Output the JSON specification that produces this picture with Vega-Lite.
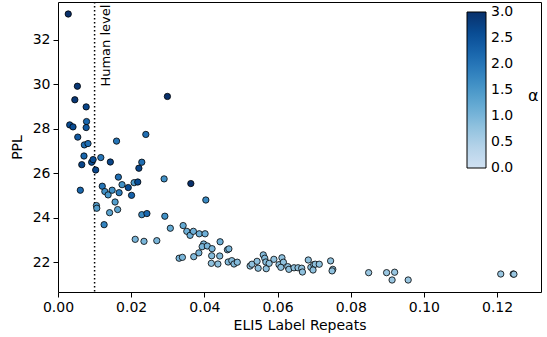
{
  "$schema": "https://vega.github.io/schema/vega-lite/v6.json",
  "width": 483,
  "height": 290,
  "autosize": {"type": "none"},
  "padding": {"left": 58, "top": 2, "right": 6, "bottom": 45},
  "config": {
    "font": "DejaVu Sans",
    "view": {"stroke": "#000", "strokeWidth": 1},
    "axis": {"domain": false, "grid": false, "tickColor": "#000", "tickSize": 5, "labelColor": "#000", "labelFontSize": 14, "titleColor": "#000", "titleFontSize": 14, "titleFontWeight": "normal", "labelFont": "DejaVu Sans", "titleFont": "DejaVu Sans", "labelFlush": false},
    "legend": {"labelFont": "DejaVu Sans", "titleFont": "DejaVu Sans"}
  },
  "datasets": {
    "points": [
      {"x": 0.0028, "ppl": 33.16, "a": 3.0},
      {"x": 0.0053, "ppl": 29.91, "a": 2.9},
      {"x": 0.0046, "ppl": 29.30, "a": 2.9},
      {"x": 0.0077, "ppl": 28.98, "a": 2.7},
      {"x": 0.0299, "ppl": 29.45, "a": 3.0},
      {"x": 0.0032, "ppl": 28.17, "a": 2.6},
      {"x": 0.0041, "ppl": 28.08, "a": 2.6},
      {"x": 0.0078, "ppl": 28.32, "a": 2.2},
      {"x": 0.0077, "ppl": 28.05, "a": 2.4},
      {"x": 0.0054, "ppl": 27.62, "a": 2.4},
      {"x": 0.0240, "ppl": 27.74, "a": 2.1},
      {"x": 0.0072, "ppl": 27.27, "a": 2.1},
      {"x": 0.0082, "ppl": 27.33, "a": 2.1},
      {"x": 0.0160, "ppl": 27.44, "a": 2.0},
      {"x": 0.0071, "ppl": 26.77, "a": 2.2},
      {"x": 0.0065, "ppl": 26.38, "a": 2.7},
      {"x": 0.0092, "ppl": 26.49, "a": 2.6},
      {"x": 0.0096, "ppl": 26.61, "a": 2.6},
      {"x": 0.0117, "ppl": 26.70, "a": 2.0},
      {"x": 0.0143, "ppl": 26.50, "a": 2.7},
      {"x": 0.0229, "ppl": 26.49, "a": 2.1},
      {"x": 0.0221, "ppl": 26.22, "a": 2.7},
      {"x": 0.0103, "ppl": 26.14, "a": 2.7},
      {"x": 0.0061, "ppl": 25.23, "a": 2.2},
      {"x": 0.0165, "ppl": 25.82, "a": 2.1},
      {"x": 0.0121, "ppl": 25.41, "a": 2.0},
      {"x": 0.0175, "ppl": 25.48, "a": 1.6},
      {"x": 0.0128, "ppl": 25.17, "a": 1.6},
      {"x": 0.0137, "ppl": 25.02, "a": 1.5},
      {"x": 0.0148, "ppl": 25.23, "a": 1.6},
      {"x": 0.0167, "ppl": 25.12, "a": 1.9},
      {"x": 0.0192, "ppl": 25.35, "a": 2.6},
      {"x": 0.0201, "ppl": 25.00, "a": 2.3},
      {"x": 0.0208, "ppl": 25.57, "a": 1.5},
      {"x": 0.0218, "ppl": 25.60, "a": 2.6},
      {"x": 0.0290, "ppl": 25.74, "a": 1.6},
      {"x": 0.0363, "ppl": 25.53, "a": 3.0},
      {"x": 0.0105, "ppl": 24.54, "a": 1.4},
      {"x": 0.0106, "ppl": 24.42, "a": 1.4},
      {"x": 0.0156, "ppl": 24.70, "a": 1.4},
      {"x": 0.0141, "ppl": 24.22, "a": 1.3},
      {"x": 0.0163, "ppl": 24.36, "a": 1.3},
      {"x": 0.0229, "ppl": 24.13, "a": 1.7},
      {"x": 0.0243, "ppl": 24.18, "a": 2.2},
      {"x": 0.0292, "ppl": 24.06, "a": 1.6},
      {"x": 0.0404, "ppl": 24.79, "a": 1.7},
      {"x": 0.0126, "ppl": 23.68, "a": 1.8},
      {"x": 0.0307, "ppl": 23.52, "a": 1.2},
      {"x": 0.0342, "ppl": 23.64, "a": 1.2},
      {"x": 0.0211, "ppl": 23.02, "a": 1.0},
      {"x": 0.0235, "ppl": 22.93, "a": 1.0},
      {"x": 0.0270, "ppl": 22.96, "a": 1.0},
      {"x": 0.0331, "ppl": 22.17, "a": 1.0},
      {"x": 0.0340, "ppl": 22.21, "a": 1.0},
      {"x": 0.0352, "ppl": 23.38, "a": 1.1},
      {"x": 0.0361, "ppl": 23.20, "a": 1.1},
      {"x": 0.0370, "ppl": 23.38, "a": 1.1},
      {"x": 0.0386, "ppl": 23.27, "a": 1.1},
      {"x": 0.0402, "ppl": 23.27, "a": 1.1},
      {"x": 0.0443, "ppl": 22.91, "a": 1.1},
      {"x": 0.0398, "ppl": 22.81, "a": 1.0},
      {"x": 0.0394, "ppl": 22.69, "a": 1.0},
      {"x": 0.0408, "ppl": 22.72, "a": 1.0},
      {"x": 0.0421, "ppl": 22.60, "a": 1.0},
      {"x": 0.0463, "ppl": 22.55, "a": 1.0},
      {"x": 0.0467, "ppl": 22.59, "a": 1.0},
      {"x": 0.0371, "ppl": 22.24, "a": 0.9},
      {"x": 0.0385, "ppl": 22.41, "a": 1.0},
      {"x": 0.0420, "ppl": 22.28, "a": 0.9},
      {"x": 0.0442, "ppl": 22.27, "a": 0.9},
      {"x": 0.0419, "ppl": 21.94, "a": 0.8},
      {"x": 0.0437, "ppl": 21.91, "a": 0.8},
      {"x": 0.0465, "ppl": 22.00, "a": 0.9},
      {"x": 0.0475, "ppl": 22.06, "a": 0.9},
      {"x": 0.0481, "ppl": 21.91, "a": 0.9},
      {"x": 0.0490, "ppl": 21.99, "a": 0.9},
      {"x": 0.0525, "ppl": 21.82, "a": 0.8},
      {"x": 0.0530, "ppl": 21.90, "a": 0.8},
      {"x": 0.0544, "ppl": 22.03, "a": 0.8},
      {"x": 0.0547, "ppl": 21.72, "a": 0.8},
      {"x": 0.0561, "ppl": 22.32, "a": 0.9},
      {"x": 0.0565, "ppl": 22.17, "a": 0.9},
      {"x": 0.0568, "ppl": 22.00, "a": 0.9},
      {"x": 0.0569, "ppl": 21.70, "a": 0.8},
      {"x": 0.0577, "ppl": 21.94, "a": 0.8},
      {"x": 0.0590, "ppl": 22.12, "a": 0.8},
      {"x": 0.0604, "ppl": 21.88, "a": 0.8},
      {"x": 0.0612, "ppl": 22.19, "a": 0.8},
      {"x": 0.0616, "ppl": 21.99, "a": 0.8},
      {"x": 0.0609, "ppl": 21.76, "a": 0.8},
      {"x": 0.0628, "ppl": 21.79, "a": 0.8},
      {"x": 0.0631, "ppl": 21.67, "a": 0.8},
      {"x": 0.0645, "ppl": 21.74, "a": 0.8},
      {"x": 0.0656, "ppl": 21.74, "a": 0.8},
      {"x": 0.0666, "ppl": 21.72, "a": 0.8},
      {"x": 0.0668, "ppl": 21.55, "a": 0.8},
      {"x": 0.0684, "ppl": 22.09, "a": 0.8},
      {"x": 0.0691, "ppl": 21.76, "a": 0.8},
      {"x": 0.0699, "ppl": 21.88, "a": 0.8},
      {"x": 0.0703, "ppl": 21.90, "a": 0.8},
      {"x": 0.0697, "ppl": 21.64, "a": 0.8},
      {"x": 0.0714, "ppl": 21.90, "a": 0.8},
      {"x": 0.0745, "ppl": 22.05, "a": 0.8},
      {"x": 0.0751, "ppl": 21.67, "a": 0.8},
      {"x": 0.0749, "ppl": 21.60, "a": 0.8},
      {"x": 0.0849, "ppl": 21.52, "a": 0.7},
      {"x": 0.0898, "ppl": 21.52, "a": 0.7},
      {"x": 0.0920, "ppl": 21.54, "a": 0.7},
      {"x": 0.0913, "ppl": 21.19, "a": 0.7},
      {"x": 0.0957, "ppl": 21.19, "a": 0.7},
      {"x": 0.1210, "ppl": 21.46, "a": 0.7},
      {"x": 0.1244, "ppl": 21.46, "a": 0.7},
      {"x": 0.1246, "ppl": 21.45, "a": 0.7}
    ]
  },
  "layer": [
    {
      "data": {"values": [{"x": 0.01}]},
      "mark": {"type": "rule", "color": "#000", "strokeWidth": 1.5, "strokeDash": [1.5, 2.5]},
      "encoding": {"x": {"field": "x", "type": "quantitative", "scale": {"domain": [0, 0.132], "nice": false, "zero": false}}}
    },
    {
      "data": {"values": [{"x": 0.01148, "ppl": 33.58, "label": "Human level"}]},
      "mark": {"type": "text", "angle": 270, "align": "right", "baseline": "top", "fontSize": 13, "font": "DejaVu Sans", "color": "#000"},
      "encoding": {
        "x": {"field": "x", "type": "quantitative"},
        "y": {"field": "ppl", "type": "quantitative"},
        "text": {"field": "label"}
      }
    },
    {
      "data": {"values": [{"x": 0.1299, "ppl": 29.45, "label": "α"}]},
      "mark": {"type": "text", "align": "center", "baseline": "middle", "fontSize": 16, "font": "DejaVu Sans", "color": "#000"},
      "encoding": {
        "x": {"field": "x", "type": "quantitative"},
        "y": {"field": "ppl", "type": "quantitative"},
        "text": {"field": "label"}
      }
    },
    {
      "data": {"name": "points"},
      "mark": {"type": "circle", "size": 40, "stroke": "#000", "strokeWidth": 0.8, "opacity": 1},
      "encoding": {
        "x": {"field": "x", "type": "quantitative", "title": "ELI5 Label Repeats",
              "scale": {"domain": [0, 0.132], "nice": false, "zero": false},
              "axis": {"values": [0, 0.02, 0.04, 0.06, 0.08, 0.1, 0.12], "format": ".2f", "labelPadding": 3, "titlePadding": 4}},
        "y": {"field": "ppl", "type": "quantitative", "title": "PPL",
              "scale": {"domain": [20.65, 33.7], "nice": false, "zero": false},
              "axis": {"values": [22, 24, 26, 28, 30, 32], "format": "d", "labelPadding": 3, "titlePadding": 8}},
        "color": {"field": "a", "type": "quantitative",
                  "scale": {"domain": [-0.0005, 3.0005], "nice": false, "zero": false, "range": ["#d0e1f2", "#b7d4ea", "#94c4df", "#6baed6", "#4a98c9", "#2e7ebc", "#1764ab", "#084a91", "#08306b"]},
                  "legend": {"orient": "none", "legendX": 409, "legendY": 10, "direction": "vertical", "gradientLength": 156, "gradientThickness": 19,
                             "values": [0, 0.5, 1, 1.5, 2, 2.5, 3], "format": ".1f", "labelFontSize": 14, "labelColor": "#000", "labelOffset": 5, "labelOverlap": false,
                             "title": null,
                             "gradientStrokeColor": "#000", "gradientStrokeWidth": 1}}
      }
    }
  ]
}
